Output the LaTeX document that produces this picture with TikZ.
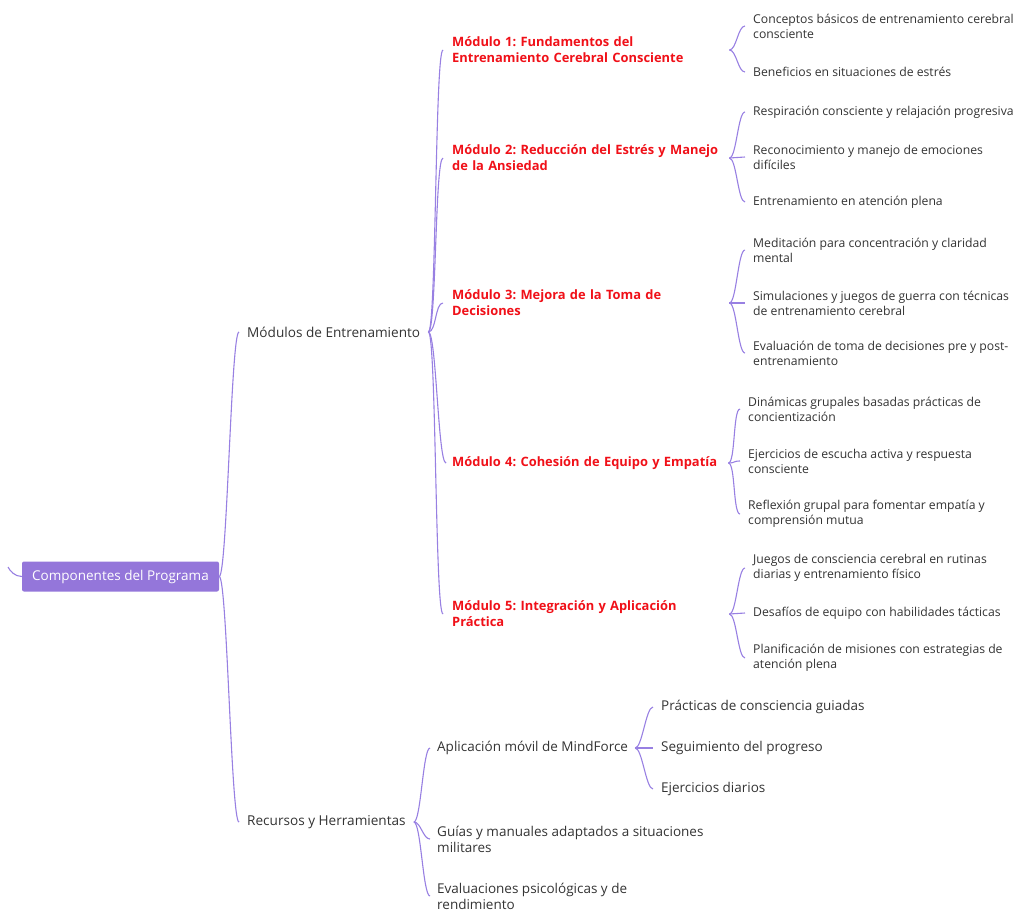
\documentclass[tikz,border=0pt]{standalone}
\usepackage{fontspec}
\setmainfont{Open Sans}
\frenchspacing
\definecolor{lineC}{RGB}{152,128,226}
\definecolor{rootC}{RGB}{148,118,218}
\definecolor{modC}{RGB}{240,16,24}
\definecolor{txtC}{RGB}{51,51,51}
\begin{document}
\begin{tikzpicture}[x=1pt,y=-1pt,
  conn/.style={draw=lineC,line width=1.1pt},
  rootbox/.style={fill=rootC,rounded corners=2pt,minimum width=197pt,minimum height=30pt,inner sep=0pt,text=white,font=\fontsize{13.5}{16}\selectfont},
  lone/.style={anchor=west,inner xsep=8pt,inner ysep=1pt,text=txtC,align=left,font=\fontsize{13.6}{16}\selectfont},
  modbox/.style={anchor=west,inner xsep=9pt,inner ysep=1pt,text=modC,align=left,text width=268pt,font=\fontsize{12.9}{16}\selectfont\bfseries},
  leaf/.style={anchor=west,inner xsep=8pt,inner ysep=1pt,text=txtC,align=left,font=\fontsize{12.2}{15}\selectfont},
  resc/.style={anchor=west,inner xsep=7pt,inner ysep=1pt,text=txtC,align=left,font=\fontsize{13.5}{16}\selectfont},
  appc/.style={anchor=west,inner xsep=8pt,inner ysep=1pt,text=txtC,align=left,font=\fontsize{13.5}{16}\selectfont}
]
\useasboundingbox (0,0) rectangle (1018,911);

% root
\node[rootbox] (root) at (120.5,576.5) {Componentes del Programa};
\coordinate (curl) at (8,567);

% level 1
\node[lone] (mods) at (239,332) {Módulos de Entrenamiento};
\node[lone] (recs) at (239,822) {Recursos y Herramientas};

% modules
\node[modbox] (m1) at (443,50) {Módulo 1: Fundamentos del\\Entrenamiento Cerebral Consciente};
\node[modbox] (m2) at (443,158) {Módulo 2: Reducción del Estrés y Manejo\\de la Ansiedad};
\node[modbox] (m3) at (443,303) {Módulo 3: Mejora de la Toma de\\Decisiones};
\node[modbox,text width=270pt,inner xsep=6pt] (m4) at (446,463) {\mbox{Módulo 4: Cohesión de Equipo y Empatía}};
\node[modbox] (m5) at (443,614) {Módulo 5: Integración y Aplicación\\Práctica};

% module 1 leaves
\node[leaf] (a1) at (745,26) {Conceptos básicos de entrenamiento cerebral\\consciente};
\node[leaf] (a2) at (745,72) {Beneficios en situaciones de estrés};
% module 2 leaves
\node[leaf] (b1) at (745,112) {Respiración consciente y relajación progresiva};
\node[leaf] (b2) at (745,157) {Reconocimiento y manejo de emociones\\difíciles};
\node[leaf] (b3) at (745,202) {Entrenamiento en atención plena};
% module 3 leaves
\node[leaf] (c1) at (745,250) {Meditación para concentración y claridad\\mental};
\node[leaf] (c2) at (745,303) {Simulaciones y juegos de guerra con técnicas\\de entrenamiento cerebral};
\node[leaf] (c3) at (745,353) {Evaluación de toma de decisiones pre y post-\\entrenamiento};
% module 4 leaves
\node[leaf] (d1) at (740,409) {Dinámicas grupales basadas prácticas de\\concientización};
\node[leaf] (d2) at (740,461) {Ejercicios de escucha activa y respuesta\\consciente};
\node[leaf] (d3) at (740,514) {Reflexión grupal para fomentar empatía y\\comprensión mutua};
% module 5 leaves
\node[leaf] (e1) at (745,568) {Juegos de consciencia cerebral en rutinas\\diarias y entrenamiento físico};
\node[leaf] (e2) at (745,613) {Desafíos de equipo con habilidades tácticas};
\node[leaf] (e3) at (745,658) {Planificación de misiones con estrategias de\\atención plena};

% resources
\node[resc] (r1) at (430,748) {Aplicación móvil de MindForce};
\node[resc] (r2) at (430,839) {Guías y manuales adaptados a situaciones\\militares};
\node[resc] (r3) at (430,896) {Evaluaciones psicológicas y de\\rendimiento};

\node[appc] (p1) at (653,707) {Prácticas de consciencia guiadas};
\node[appc] (p2) at (653,748) {Seguimiento del progreso};
\node[appc] (p3) at (653,789) {Ejercicios diarios};

% connectors
\draw[conn] (root.west) .. controls +(-7,0) and +(2,4) .. (curl);
\foreach \c in {mods,recs}
  \draw[conn] (root.east) .. controls +(8,0) and +(-8,0) .. (\c.west);
\foreach \c in {m1,m2,m3,m4,m5}
  \draw[conn] (mods.east) .. controls +(8,0) and +(-8,0) .. (\c.west);
\foreach \c in {a1,a2}
  \draw[conn] (m1.east) .. controls +(7,0) and +(-7,0) .. (\c.west);
\foreach \c in {b1,b2,b3}
  \draw[conn] (m2.east) .. controls +(7,0) and +(-7,0) .. (\c.west);
\foreach \c in {c1,c2,c3}
  \draw[conn] (m3.east) .. controls +(7,0) and +(-7,0) .. (\c.west);
\foreach \c in {d1,d2,d3}
  \draw[conn] (m4.east) .. controls +(7,0) and +(-7,0) .. (\c.west);
\foreach \c in {e1,e2,e3}
  \draw[conn] (m5.east) .. controls +(7,0) and +(-7,0) .. (\c.west);
\foreach \c in {r1,r2,r3}
  \draw[conn] (recs.east) .. controls +(7,0) and +(-7,0) .. (\c.west);
\foreach \c in {p1,p2,p3}
  \draw[conn] (r1.east) .. controls +(7,0) and +(-7,0) .. (\c.west);
\end{tikzpicture}
\end{document}
